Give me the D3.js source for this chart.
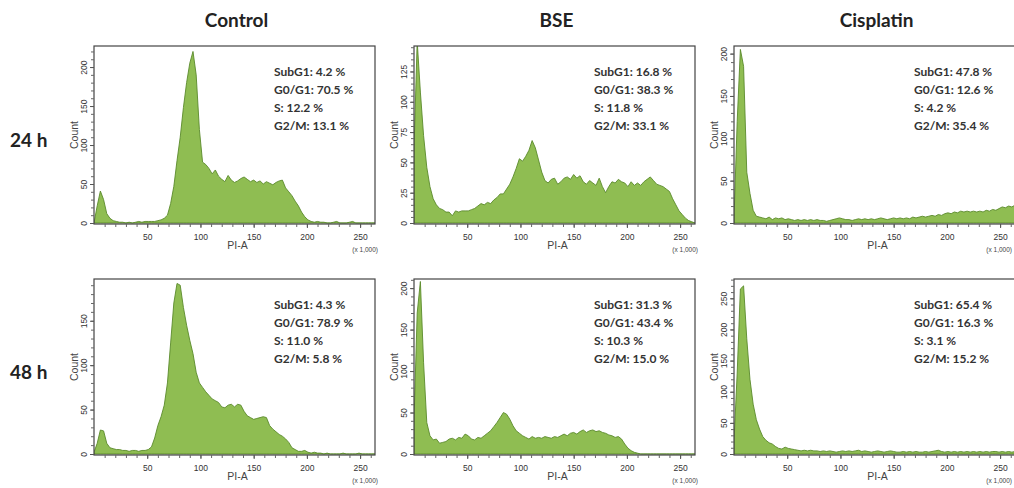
<!DOCTYPE html>
<html>
<head>
<meta charset="utf-8">
<script src="https://cdn.jsdelivr.net/npm/d3@7"></script>
<style>
  body { margin: 0; background: #fff; }
  svg { display: block; }
</style>
</head>
<body>
<script>
// column / row labels
const columns = ["Control", "BSE", "Cisplatin"];
const rows = ["24 h", "48 h"];
const phases = ["SubG1", "G0/G1", "S", "G2/M"];

// PI-A bins (x 1,000), one count per bin
const piBins = d3.range(0, 265, 3);

// counts, 24 h
const countControl24 = [
  0, 22, 41, 30, 12, 6, 3, 2, 1, 1,
  0, 1, 0, 1, 2, 1, 2, 2, 2, 2,
  3, 4, 6, 10, 25, 47, 80, 110, 148, 180,
  205, 220, 190, 120, 78, 75, 70, 63, 68, 60,
  56, 53, 61, 55, 52, 54, 57, 59, 56, 53,
  55, 52, 54, 50, 53, 51, 49, 52, 54, 55,
  45, 40, 35, 28, 22, 14, 8, 4, 2, 1,
  2, 1, 1, 0, 0, 1, 2, 0, 0, 0,
  1, 2, 0, 0, 0, 0, 0, 0, 0
];
const countBSE24 = [
  60, 150, 108, 72, 46, 30, 20, 15, 12, 11,
  9, 9, 6, 10, 9, 10, 10, 10, 11, 12,
  14, 16, 15, 17, 16, 19, 21, 24, 24, 28,
  32, 38, 45, 53, 51, 55, 60, 68, 62, 52,
  42, 35, 33, 36, 37, 32, 34, 37, 38, 36,
  40, 37, 39, 34, 32, 35, 33, 31, 37, 30,
  25, 30, 34, 33, 36, 34, 33, 30, 34, 31,
  33, 31, 34, 36, 38, 35, 32, 31, 30, 28,
  26, 20, 15, 10, 7, 4, 2, 1, 0
];
const countCis24 = [
  5, 120, 205, 185, 60, 35, 15, 8, 7, 6,
  5, 7, 4, 6, 5, 6, 4, 5, 4, 3,
  4, 3, 4, 3, 4, 3, 4, 3, 3, 2,
  3, 4, 5, 6, 5, 4, 4, 3, 4, 5,
  4, 5, 4, 5, 4, 5, 6, 5, 4, 5,
  6, 5, 6, 5, 6, 5, 7, 6, 7, 8,
  7, 8, 9, 8, 10, 9, 11, 12, 11, 13,
  12, 14, 13, 14, 13, 14, 13, 14, 13, 15,
  14, 16, 15, 17, 19, 18, 20, 19, 21
];

// 48 h
const countControl48 = [
  2, 12, 27, 26, 12, 7, 6, 5, 5, 4,
  4, 3, 4, 4, 3, 4, 4, 5, 8, 18,
  32, 42, 55, 80, 125, 170, 192, 190, 165, 145,
  128, 113, 92, 80, 75, 70, 66, 62, 60, 58,
  53, 52, 55, 56, 53, 56, 55, 48, 43, 41,
  39, 40, 41, 42, 41, 32, 28, 25, 22, 20,
  17, 13, 7, 5, 3, 3, 4, 2, 1, 2,
  1, 1, 0, 1, 0, 0, 0, 0, 1, 0,
  0, 0, 0, 1, 0, 0, 0, 0, 0
];
const countBSE48 = [
  40, 170, 208, 110, 38, 22, 17, 18, 13, 14,
  15, 18, 19, 17, 20, 19, 24, 22, 18, 17,
  20, 19, 22, 25, 28, 33, 38, 44, 50, 48,
  42, 34, 28, 25, 22, 20, 18, 21, 19, 20,
  19, 21, 20, 19, 21, 20, 22, 24, 22, 25,
  26, 24, 27, 29, 26, 28, 29, 27, 28, 26,
  25, 23, 22, 20, 21, 18, 12, 7, 4, 2,
  1, 0, 0, 0, 0, 0, 0, 0, 0, 0,
  0, 0, 0, 0, 0, 0, 0, 0, 0
];
const countCis48 = [
  20, 130, 265, 270, 185, 120, 80, 55, 40, 28,
  22, 18, 16, 12, 9, 8, 11, 9, 8, 7,
  6, 5, 6, 5, 6, 5, 5, 4, 5, 4,
  5, 4, 3, 4, 5, 4, 5, 4, 5, 6,
  4, 5, 4, 3, 4, 5, 4, 3, 4, 5,
  4, 3, 3, 4, 3, 4, 3, 4, 3, 3,
  4, 3, 4, 5, 6, 4, 3, 4, 3, 4,
  3, 4, 3, 4, 3, 4, 3, 4, 3, 4,
  3, 4, 4, 3, 4, 3, 4, 3, 4
];

// percentages per phase
const pctControl24 = [4.2, 70.5, 12.2, 13.1];
const pctBSE24 = [16.8, 38.3, 11.8, 33.1];
const pctCis24 = [47.8, 12.6, 4.2, 35.4];
const pctControl48 = [4.3, 78.9, 11.0, 5.8];
const pctBSE48 = [31.3, 43.4, 10.3, 15.0];
const pctCis48 = [65.4, 16.3, 3.1, 15.2];

// axis ticks
const xTicks = [50, 100, 150, 200, 250];
const yTicks50to200 = [0, 50, 100, 150, 200];
const yTicks25to125 = [0, 25, 50, 75, 100, 125];
const yTicks50to150 = [0, 50, 100, 150];
const yTicks50to250 = [0, 50, 100, 150, 200, 250];

const panels = [
  { row: 0, col: 0, counts: countControl24, pct: pctControl24, yMax: 227, yTicks: yTicks50to200 },
  { row: 0, col: 1, counts: countBSE24, pct: pctBSE24, yMax: 146, yTicks: yTicks25to125 },
  { row: 0, col: 2, counts: countCis24, pct: pctCis24, yMax: 209, yTicks: yTicks50to200 },
  { row: 1, col: 0, counts: countControl48, pct: pctControl48, yMax: 197, yTicks: yTicks50to150 },
  { row: 1, col: 1, counts: countBSE48, pct: pctBSE48, yMax: 211, yTicks: yTicks50to200 },
  { row: 1, col: 2, counts: countCis48, pct: pctCis48, yMax: 281, yTicks: yTicks50to250 }
];

// layout
const width = 1014, height = 488;
const colLeft = [94, 414, 734];
const rowTop = [46, 279];
const rowHeight = [178, 176];
const plotW = 281;

const fillColor = "#8fbd52";
const lineColor = "#5a8a2b";
const tickFont = "'Liberation Sans Narrow', 'Liberation Sans', Arial, sans-serif";
const labelFont = "Lato, 'Open Sans', sans-serif";

const svg = d3.select("body").append("svg")
  .attr("width", width)
  .attr("height", height);

// column titles
svg.selectAll(".col-title")
  .data(columns)
  .enter()
  .append("text")
  .attr("class", "col-title")
  .attr("x", (d, i) => colLeft[i] + plotW / 2 + 2)
  .attr("y", 27)
  .attr("text-anchor", "middle")
  .style("font-family", labelFont)
  .style("font-weight", "bold")
  .style("font-size", "19px")
  .style("fill", "#222")
  .text(d => d);

// row labels
svg.selectAll(".row-title")
  .data(rows)
  .enter()
  .append("text")
  .attr("class", "row-title")
  .attr("x", 10)
  .attr("y", (d, i) => rowTop[i] + rowHeight[i] / 2 + 12)
  .style("font-family", labelFont)
  .style("font-weight", "bold")
  .style("font-size", "19px")
  .style("fill", "#222")
  .text(d => d);

panels.forEach((p, idx) => {
  const left = colLeft[p.col];
  const top = rowTop[p.row];
  const h = rowHeight[p.row];

  const g = svg.append("g").attr("transform", "translate(" + left + "," + top + ")");

  const x = d3.scaleLinear().domain([0, 264]).range([0, plotW]);
  const y = d3.scaleLinear().domain([0, p.yMax]).range([h - 1, 0]);

  g.append("clipPath")
    .attr("id", "clip" + idx)
    .append("rect")
    .attr("width", plotW)
    .attr("height", h);

  const area = d3.area()
    .x((d, i) => x(piBins[i]))
    .y0(y(0))
    .y1(d => y(d));

  g.append("path")
    .datum(p.counts)
    .attr("clip-path", "url(#clip" + idx + ")")
    .attr("d", area)
    .attr("fill", fillColor)
    .attr("stroke", lineColor)
    .attr("stroke-width", 0.9)
    .attr("stroke-linejoin", "round");

  // frame
  g.append("rect")
    .attr("width", plotW)
    .attr("height", h)
    .attr("fill", "none")
    .attr("stroke", "#444")
    .attr("stroke-width", 1.2);

  // x axis: minor + major ticks
  const xMinor = g.append("g")
    .attr("transform", "translate(0," + h + ")")
    .call(d3.axisBottom(x).tickValues(d3.range(10, 261, 10)).tickSize(3).tickFormat(""));
  xMinor.select(".domain").remove();
  xMinor.selectAll("line").attr("stroke", "#666");

  const xAxis = g.append("g")
    .attr("transform", "translate(0," + h + ")")
    .call(d3.axisBottom(x).tickValues(xTicks).tickSize(4).tickPadding(6));
  xAxis.select(".domain").remove();
  xAxis.selectAll("line").attr("stroke", "#555");
  xAxis.selectAll("text")
    .style("font-family", tickFont)
    .style("font-size", "8.5px")
    .style("fill", "#333");

  // y axis: minor + major ticks, rotated labels
  const minorStep = p.yTicks[1] / 5;
  const yMinor = g.append("g")
    .call(d3.axisLeft(y).tickValues(d3.range(minorStep, p.yMax, minorStep)).tickSize(3).tickFormat(""));
  yMinor.select(".domain").remove();
  yMinor.selectAll("line").attr("stroke", "#666");

  const yAxis = g.append("g")
    .call(d3.axisLeft(y).tickValues(p.yTicks).tickSize(4));
  yAxis.select(".domain").remove();
  yAxis.selectAll("line").attr("stroke", "#555");
  yAxis.selectAll("text")
    .attr("x", null)
    .attr("dy", null)
    .attr("transform", "translate(-10,0) rotate(-90)")
    .attr("y", 3)
    .attr("text-anchor", "middle")
    .style("font-family", tickFont)
    .style("font-size", "8.5px")
    .style("fill", "#333");

  g.append("text")
    .attr("transform", "translate(-16," + (h / 2) + ") rotate(-90)")
    .attr("text-anchor", "middle")
    .style("font-family", "'Liberation Sans', Arial, sans-serif")
    .style("font-size", "10.5px")
    .style("fill", "#444")
    .text("Count");

  g.append("text")
    .attr("x", plotW / 2 + 3)
    .attr("y", h + 25)
    .attr("text-anchor", "middle")
    .style("font-family", "'Liberation Sans', Arial, sans-serif")
    .style("font-size", "10.5px")
    .style("fill", "#444")
    .text("PI-A");

  // keep the unit label inside the page for the cut-off right column
  const unitRight = Math.min(plotW + 3, width - left - 2);
  g.append("text")
    .attr("x", unitRight)
    .attr("y", h + 28)
    .attr("text-anchor", "end")
    .style("font-family", tickFont)
    .style("font-size", "6.5px")
    .style("fill", "#444")
    .text("(x 1,000)");

  // phase percentages
  g.selectAll(".pct")
    .data(p.pct)
    .enter()
    .append("text")
    .attr("class", "pct")
    .attr("x", 180)
    .attr("y", (d, i) => 30 + i * 18)
    .style("font-family", labelFont)
    .style("font-weight", "bold")
    .style("font-size", "12px")
    .style("fill", "#333")
    .text((d, i) => phases[i] + ": " + d.toFixed(1) + " %");
});
</script>
</body>
</html>
